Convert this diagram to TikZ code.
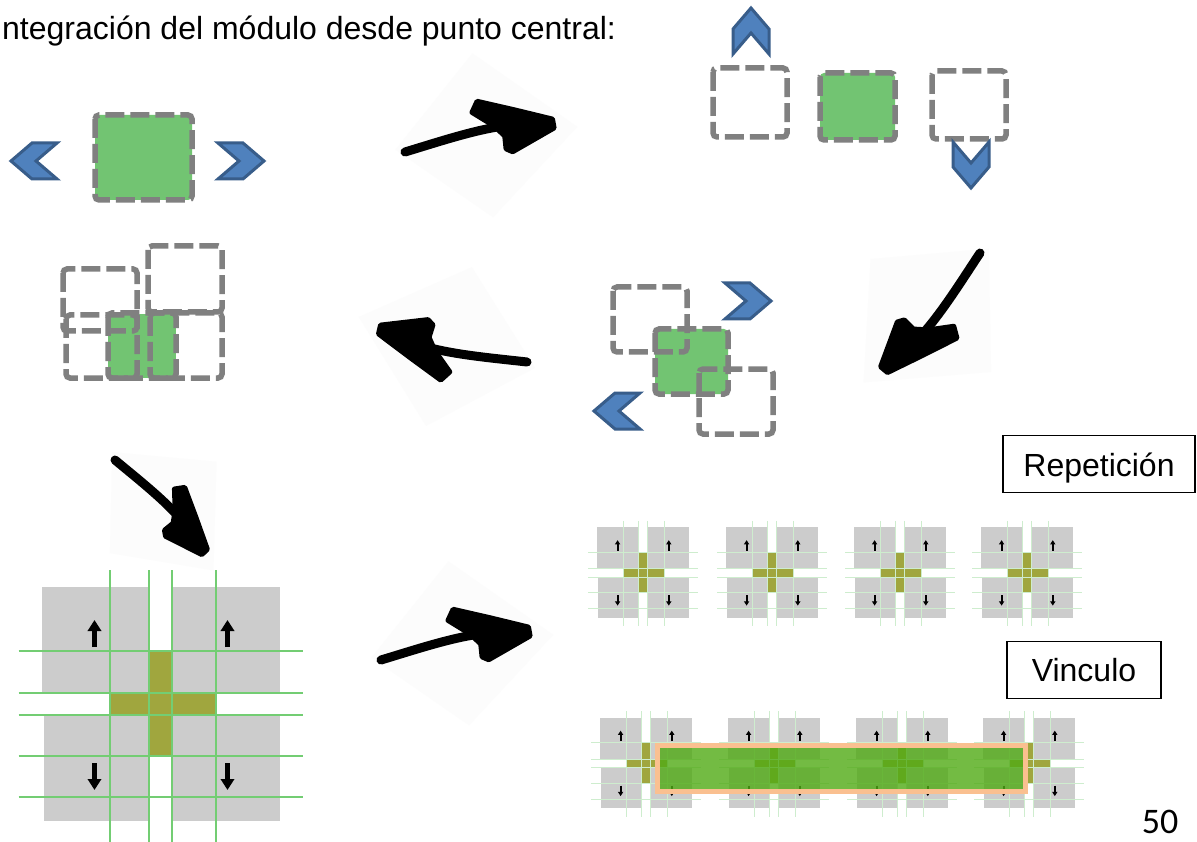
\documentclass[tikz,border=0pt]{standalone}
\usepackage{fontspec}
\setmainfont{Liberation Sans}
\newfontfamily\pagina{Carlito}
\usetikzlibrary{arrows.meta}

\definecolor{verde}{RGB}{114,196,114}
\definecolor{grisborde}{RGB}{128,128,128}
\definecolor{azul}{RGB}{79,129,189}
\definecolor{azulborde}{RGB}{56,93,138}
\definecolor{grismodulo}{RGB}{204,204,204}
\definecolor{oliva}{RGB}{160,166,62}
\definecolor{verdelinea}{RGB}{115,205,115}
\definecolor{verdebarra}{RGB}{80,170,20}
\definecolor{naranja}{RGB}{250,192,144}

\tikzset{
  hueco/.style={draw=grisborde, line width=5.5, dash pattern=on 19pt off 6pt, rounded corners=4},
  lleno/.style={hueco, fill=verde},
  caja/.style={draw, line width=1.5, inner sep=0, text depth=0pt, font=\fontsize{32}{38}\selectfont},
  rejilla/.style={draw=verdelinea},
  fina/.style={rejilla/.style={draw=verdelinea!35}},
  flechita/.style={-{Triangle[length=0pt 2, width=0pt 2.4]}, black},
  chevron/.pic={
    \filldraw[fill=azul, draw=azulborde, line width=3, line join=miter]
      (-23,-18) -- (2,-18) -- (23,0) -- (2,18) -- (-23,18) -- (-2,0) -- cycle;
  },
  flecha/.pic={
    \fill[black!1.2] (84,-85) -- (174,6) -- (75,80) -- (-9,-4) -- cycle;
    \draw[line width=9, line cap=round] (0,0) .. controls (35,-4) and (70,-9) .. (100,-8);
    \filldraw[line width=5, line join=round] (73,-27) -- (80,-37) -- (115,-22) -- (151,-6)
      -- (151,3) -- (106,19) -- (100,15) -- (101,2) -- (92,-10) -- cycle;
  },
  modulo/.pic={
    \begin{scope}[scale=#1]
      \fill[grismodulo] (-119,-117) rectangle (-11.5,-11);
      \fill[grismodulo] (11.5,-117) rectangle (119,-11);
      \fill[grismodulo] (-117,11) rectangle (-11.5,117);
      \fill[grismodulo] (11.5,11) rectangle (119,117);
      \fill[oliva] (-11.5,-53) rectangle (11.5,52);
      \fill[oliva] (-50.5,-11) rectangle (55.5,11);
      \foreach \x in {-50.5,-11.5,11.5,55.5}
        \draw[rejilla, line width=#1*1.2pt] (\x,-134) -- (\x,140);
      \foreach \y in {-53,-11,11,52,93}
        \draw[rejilla, line width=#1*1.2pt] (-142,\y) -- (142,\y);
      \foreach \x in {-66,67} {
        \draw[flechita, line width=#1*5.5pt] (\x,-57) -- (\x,-84);
        \draw[flechita, line width=#1*5.5pt] (\x,59) -- (\x,86);
      }
    \end{scope}
  }
}

\begin{document}
\begin{tikzpicture}[x=1pt, y=-1pt]
\useasboundingbox (0,0) rectangle (1197,842);
\fill[white] (0,0) rectangle (1197,842);

\node[anchor=base west, inner sep=0, font=\fontsize{32}{38}\selectfont] (titulo) at (2,40)
  {ntegración del módulo desde punto central:};

% flechas a mano
\pic[rotate=10.3] at (405,152) {flecha};
\pic[rotate=-130] at (980,253) {flecha};
\pic[rotate=167] at (527,362) {flecha};
\pic[rotate=-46.3, scale=0.85] at (115,460) {flecha};
\pic[rotate=10.3] at (381,660) {flecha};

% fila 1
\draw[lleno] (95,115) rectangle (192,200);
\pic[rotate=180] at (34,161) {chevron};
\pic at (241,161) {chevron};

\draw[hueco] (713,68) rectangle (787,137);
\draw[lleno] (820,73) rectangle (895,140);
\draw[hueco] (932,71) rectangle (1006,139);
\pic[rotate=90] at (751,31) {chevron};
\pic[rotate=-90] at (971,165) {chevron};

% fila 2
\fill[verde] (108,314) rectangle (176,378);
\draw[hueco] (63,269) rectangle (137,331);
\draw[hueco] (148,246) rectangle (222,312);
\draw[hueco] (66,315) rectangle (137,378);
\draw[hueco] (108,313) rectangle (176,378);
\draw[hueco] (150,313) rectangle (222,378);

\draw[lleno] (655,329) rectangle (728,394);
\draw[hueco] (613,287) rectangle (687,352);
\draw[hueco] (699,369) rectangle (773,434);
\pic at (748,301) {chevron};
\pic[rotate=180] at (617,411) {chevron};

% fila 3
\pic at (160.5,704) {modulo=1};
\foreach \x in {643,772,900,1027}
  \pic[fina] at (\x,572.5) {modulo=0.385};

% vinculo
\foreach \x in {646,774,902,1029}
  \pic[fina] at (\x,763) {modulo=0.385};
\draw[fill=verdebarra, fill opacity=0.8, draw=naranja, line width=5] (657,745) rectangle (1025,791);

\node[caja, minimum width=192pt, minimum height=57pt, text height=25pt] (repeticion) at (1099,464) {Repetición};
\node[caja, minimum width=154pt, minimum height=57pt, text height=23.5pt] (vinculo) at (1084,670) {Vinculo};

\node[inner sep=0, font=\pagina\fontsize{36}{40}\selectfont] (pagina) at (1160,822) {50};
\end{tikzpicture}
\end{document}
